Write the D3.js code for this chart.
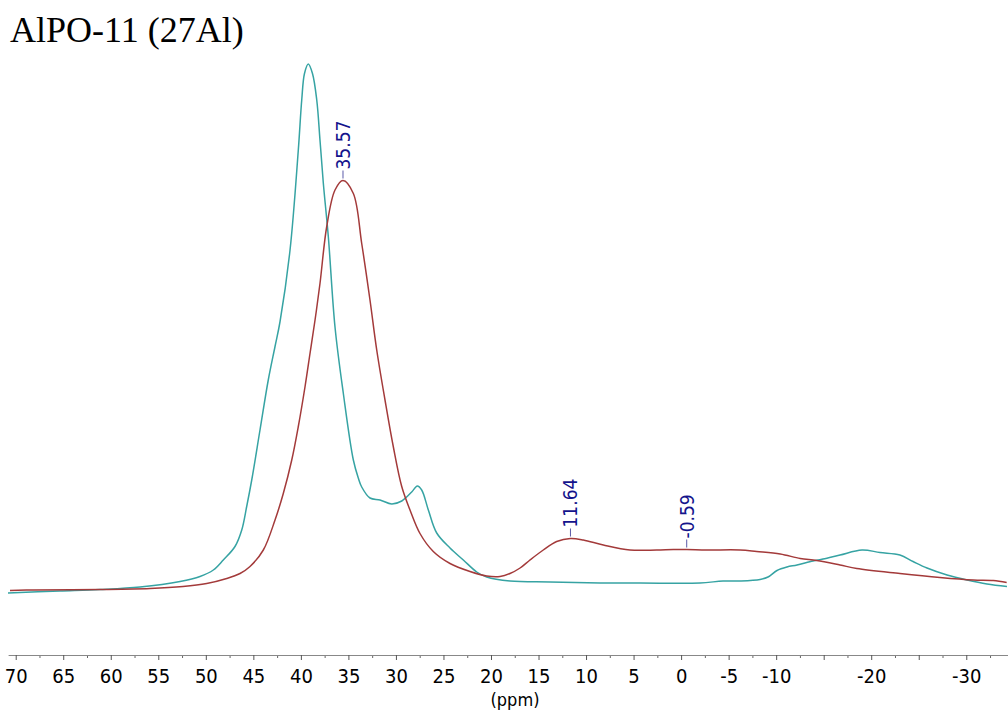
<!DOCTYPE html>
<html>
<head>
<meta charset="utf-8">
<script src="https://cdn.jsdelivr.net/npm/d3@7"></script>
<style>
  html, body { margin: 0; padding: 0; background: #fff; }
  svg { display: block; }
</style>
</head>
<body>
<svg id="chart" width="1008" height="710"></svg>
<script>
// 27Al MAS NMR spectra of AlPO-11: chemical shift (ppm) vs. intensity (a.u.)
const titleText = "AlPO-11 (27Al)";
const axisLabel = "(ppm)";

// teal trace
const tealPpm = [70.81, 65.34, 61.13, 56.92, 52.71, 50.61, 49.21, 48.16, 46.93, 46.22,
  45.70, 45.17, 44.30, 43.43, 42.72, 42.20, 41.14, 40.27, 39.91, 39.62,
  39.22, 38.78, 38.33, 37.99, 37.64, 37.11, 36.41, 35.54, 34.48, 33.96,
  33.60, 32.73, 31.67, 30.44, 29.39, 28.34, 27.75, 27.29, 26.59, 25.71,
  24.31, 22.91, 21.50, 20.45, 18.00, 13.79, 8.53, 4.32, -1.99, -4.41,
  -6.20, -8.31, -9.14, -10.09, -11.14, -12.19, -13.87, -14.93, -16.72, -19.03,
  -20.92, -23.02, -24.40, -25.87, -27.98, -30.08, -32.18, -34.28];
const tealInt = [1.4, 1.8, 2.1, 2.6, 3.7, 4.7, 6.0, 8.0, 10.7, 14.0,
  18.7, 24.0, 34.0, 44.0, 50.7, 55.6, 70.0, 90.0, 100.0, 105.3,
  107.2, 105.3, 100.0, 92.0, 83.4, 72.6, 54.6, 41.4, 28.0, 24.4,
  22.6, 20.4, 20.0, 19.2, 19.8, 21.6, 22.8, 22.0, 18.0, 13.4,
  10.4, 8.0, 5.6, 4.6, 3.8, 3.6, 3.4, 3.4, 3.4, 3.8,
  3.8, 4.1, 4.6, 5.9, 6.6, 7.0, 7.8, 8.2, 9.0, 10.0,
  9.5, 9.0, 7.7, 6.4, 5.0, 4.0, 3.2, 2.7];

// dark red trace
const redPpm = [70.60, 68.18, 61.13, 55.87, 52.40, 49.91, 47.80, 46.40, 45.35, 43.95,
  42.72, 41.85, 40.96, 40.27, 39.56, 39.04, 38.51, 37.99, 37.28, 36.41,
  35.57, 34.48, 33.60, 32.73, 32.02, 31.15, 30.28, 29.39, 28.52, 27.47,
  26.07, 24.31, 22.21, 20.45, 19.05, 18.00, 16.94, 15.90, 14.50, 13.09,
  11.64, 10.29, 8.18, 5.38, 2.57, 0.82, -0.59, -2.69, -6.20, -7.95,
  -10.43, -12.53, -14.26, -16.72, -18.48, -23.02, -27.22, -30.74, -32.84, -34.25];
const redInt = [1.9, 2.0, 2.1, 2.3, 2.7, 3.3, 4.3, 5.3, 6.7, 10.0,
  16.0, 21.3, 28.0, 34.7, 42.7, 49.3, 56.0, 63.3, 74.7, 82.0,
  83.9, 81.3, 71.3, 60.0, 50.0, 40.0, 30.7, 22.7, 18.0, 13.3,
  9.7, 7.3, 5.7, 4.8, 4.7, 5.3, 6.4, 8.0, 10.0, 11.7,
  12.3, 12.0, 11.0, 10.0, 10.0, 10.1, 10.1, 10.0, 10.0, 9.7,
  9.2, 8.3, 7.9, 7.0, 6.3, 5.3, 4.5, 4.0, 3.9, 3.5];

// picked peaks on the red trace
const peakPpm = [35.57, 11.64, -0.59];

// axis ticks
const majorTicks = [70, 65, 60, 55, 50, 45, 40, 35, 30, 25, 20, 15, 10, 5, 0, -5, -10, -15, -20, -25, -30];
const labelledTicks = [70, 65, 60, 55, 50, 45, 40, 35, 30, 25, 20, 15, 10, 5, 0, -5, -10, -20, -30];
const minorTicks = [67.5, 62.5, 57.5, 52.5, 47.5, 42.5, 37.5, 32.5, 27.5, 22.5, 17.5, 12.5, 7.5, 2.5,
  -2.5, -7.5, -12.5, -17.5, -22.5, -27.5, -32.5];

const svg = d3.select("#chart");
const FONT = "'DejaVu Sans Condensed', 'DejaVu Sans', sans-serif";

const x = d3.scaleLinear().domain([70.8, -34.4]).range([8.1, 1008.1]);
const y = d3.scaleLinear().domain([0, 110]).range([600, 50]);

const toPoints = (p, v) => p.map((d, i) => [d, v[i]]);
const tealData = toPoints(tealPpm, tealInt);
const redData = toPoints(redPpm, redInt);

const line = d3.line()
  .x(d => x(d[0]))
  .y(d => y(d[1]))
  .curve(d3.curveCatmullRom.alpha(0.5));

svg.append("clipPath").attr("id", "clip")
  .append("rect").attr("x", 0).attr("y", 0).attr("width", 1008).attr("height", 650);
const plot = svg.append("g").attr("clip-path", "url(#clip)");

plot.append("path").datum(tealData)
  .attr("d", line).attr("fill", "none")
  .attr("stroke", "#36a3a3").attr("stroke-width", 1.5);

plot.append("path").datum(redData)
  .attr("d", line).attr("fill", "none")
  .attr("stroke", "#a33a3a").attr("stroke-width", 1.5);

// peak markers: intensity at each picked shift
const interp = ppm => {
  for (let i = 0; i < redData.length - 1; i++) {
    const a = redData[i], b = redData[i + 1];
    if (ppm <= a[0] && ppm >= b[0]) {
      const t = (a[0] - ppm) / (a[0] - b[0]);
      return a[1] + t * (b[1] - a[1]);
    }
  }
  return 0;
};
const fmtPeak = v => (v < 0 ? "-" : "") + Math.abs(v).toFixed(2);

const peaks = svg.append("g");
peakPpm.forEach(p => {
  const px = x(p), py = y(interp(p));
  peaks.append("line")
    .attr("x1", px).attr("x2", px)
    .attr("y1", py - 2).attr("y2", py - 10)
    .attr("stroke", "#5a5aa8").attr("stroke-width", 1);
  peaks.append("text")
    .attr("transform", `translate(${px},${py - 11}) rotate(-90)`)
    .attr("dy", "0.36em")
    .attr("text-anchor", "start")
    .attr("font-family", FONT)
    .attr("font-size", 19)
    .attr("fill", "#14148c")
    .text(fmtPeak(p));
});

// x axis
const axisY = 655;
const fmtTick = v => labelledTicks.includes(v) ? (v < 0 ? "-" + Math.abs(v) : String(v)) : "";

const minorAxis = svg.append("g")
  .attr("transform", `translate(0,${axisY})`)
  .call(d3.axisBottom(x).tickValues(minorTicks).tickSize(3).tickSizeOuter(0).tickFormat(""));
minorAxis.select(".domain").remove();
minorAxis.selectAll("line").attr("stroke", "#666");

const majorAxis = svg.append("g")
  .attr("transform", `translate(0,${axisY})`)
  .call(d3.axisBottom(x).tickValues(majorTicks).tickSize(5).tickSizeOuter(0).tickPadding(9).tickFormat(fmtTick));
majorAxis.select(".domain").attr("stroke", "#888");
majorAxis.selectAll("line").attr("stroke", "#555");
majorAxis.selectAll("text")
  .attr("font-family", FONT)
  .attr("font-size", 20)
  .attr("fill", "#000");

svg.append("text")
  .attr("x", 515).attr("y", 705.5)
  .attr("text-anchor", "middle")
  .attr("font-family", FONT)
  .attr("font-size", 18)
  .attr("fill", "#000")
  .text(axisLabel);

// title
svg.append("text")
  .attr("x", 10).attr("y", 42)
  .attr("font-family", "'Liberation Serif', 'DejaVu Serif', serif")
  .attr("font-size", 36)
  .attr("fill", "#000")
  .text(titleText);
</script>
</body>
</html>
